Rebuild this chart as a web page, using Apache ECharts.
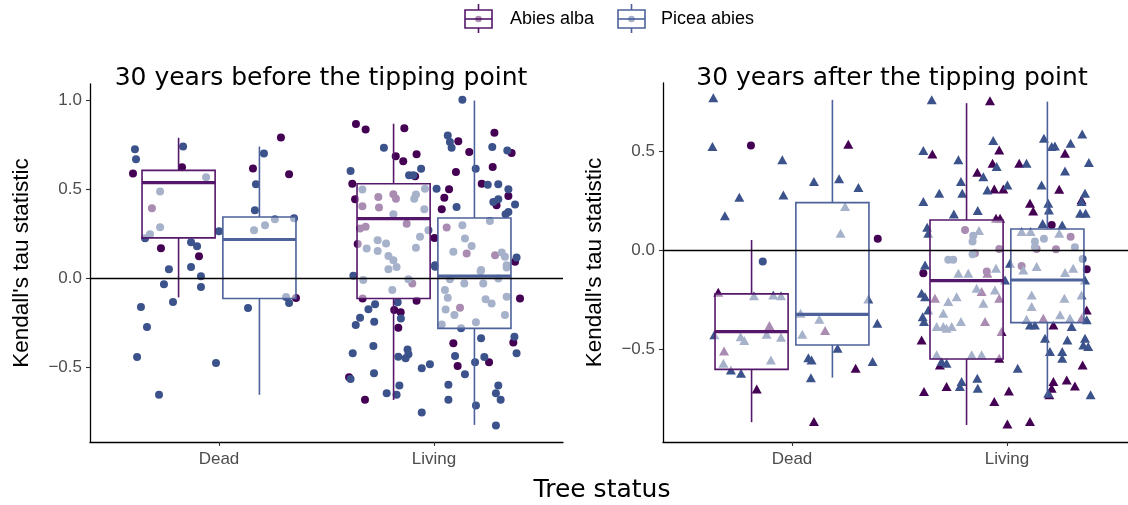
<!DOCTYPE html>
<html>
<head>
<meta charset="utf-8">
<script src="https://cdn.jsdelivr.net/npm/echarts@6/dist/echarts.min.js"></script>
<style>html,body{margin:0;padding:0;background:#fff}#c{width:1128px;height:505px}</style>
</head>
<body>
<div id="c"></div>
<script>
// ---------- DATA ----------
const categories = ['Dead', 'Living'];
const species = ['Abies alba', 'Picea abies'];
const yTicksBefore = [-0.5, 0, 0.5, 1.0];
const yTicksAfter = [-0.5, 0, 0.5];

// box stats: [lowWhisker, q1, median, q3, highWhisker]
const beforeAbiesDeadBox   = [-0.108, 0.226, 0.536, 0.605, 0.788];
const beforePiceaDeadBox   = [-0.655, -0.114, 0.217, 0.343, 0.739];
const beforeAbiesLivingBox = [-0.684, -0.114, 0.334, 0.530, 0.867];
const beforePiceaLivingBox = [-0.824, -0.282, 0.011, 0.338, 0.997];
const afterAbiesDeadBox    = [-0.870, -0.603, -0.413, -0.222, 0.050];
const afterPiceaDeadBox    = [-0.645, -0.480, -0.325, 0.239, 0.758];
const afterAbiesLivingBox  = [-0.884, -0.551, -0.155, 0.151, 0.741];
const afterPiceaLivingBox  = [-0.741, -0.367, -0.152, 0.106, 0.749];

// jittered points: [x position on category scale, tau]
const beforeAbies = [
 [0.600,0.588],[0.828,0.622],[0.688,0.392],[0.730,0.168],[0.907,0.123],[1.158,0.616],[1.288,0.790],[1.326,0.583],[1.358,-0.112],
 [1.637,0.866],[1.682,0.835],[1.862,0.842],[2.113,0.769],[2.281,0.816],[2.164,0.708],[1.919,0.695],[1.822,0.684],[1.857,0.656],[2.361,0.702],[2.102,0.596],[2.273,0.624],[1.912,0.572],[1.620,0.530],[2.222,0.530],[2.070,0.499],[1.633,0.443],[2.048,0.452],[2.036,0.387],[2.346,0.461],[2.291,0.409],[1.645,0.191],[2.377,0.092],[2.002,0.226],
 [1.741,0.456],[1.811,0.471],[1.823,0.446],[1.667,0.403],[1.744,0.396],[1.873,0.306],[1.656,0.278],[1.682,0.288],[2.152,0.138],[2.284,0.129],[2.059,0.284],
 [1.899,-0.030],[2.121,-0.166],[1.668,-0.114],[1.919,-0.127],[1.815,-0.179],[1.845,-0.192],[1.834,-0.278],[1.679,-0.683],[1.605,-0.556],[2.090,-0.366],[2.110,-0.493],[2.256,-0.472],[2.400,-0.114],[2.369,-0.362]
];
const beforePicea = [
 [0.609,0.723],[0.614,0.667],[0.833,0.739],[0.940,0.566],[0.726,0.487],[0.726,0.286],[0.679,0.246],[0.656,0.224],[1.000,0.263],[0.870,0.202],[0.898,0.179],[0.767,0.050],[0.870,0.062],[0.916,0.011],[0.744,-0.034],[0.916,-0.050],[0.786,-0.134],[0.637,-0.162],[0.665,-0.275],[0.619,-0.443],[0.721,-0.655],[0.986,-0.476],[1.209,0.700],[1.172,0.527],[1.167,0.381],[1.163,0.269],[1.214,0.297],[1.260,0.331],[1.349,0.336],[1.312,-0.106],[1.326,-0.140],[1.135,-0.168],
 [2.132,1.001],[1.767,0.732],[2.064,0.801],[2.074,0.764],[2.082,0.732],[2.271,0.736],[2.341,0.717],[1.612,0.601],[1.940,0.614],[1.884,0.577],[1.904,0.577],[2.194,0.614],[2.250,0.525],[2.299,0.527],[2.346,0.499],[2.012,0.502],[2.276,0.428],[2.299,0.443],[2.377,0.413],[2.105,0.400],[2.346,0.372],[2.333,0.359],[2.384,0.116],[2.005,0.064],
 [1.667,0.497],[1.916,0.469],[1.958,0.502],[1.908,0.446],[1.955,0.387],[1.811,0.359],[1.687,0.166],[1.738,0.213],[1.777,0.194],[1.738,0.153],[1.788,0.125],[1.811,0.101],[1.935,0.232],[1.974,0.269],[1.916,0.170],[2.090,0.148],[2.132,0.297],[2.144,0.222],[2.175,0.180],[2.260,0.321],[2.315,0.144],[2.330,0.120],[2.338,0.073],[2.219,0.045],
 [1.671,-0.011],[1.788,0.050],[1.826,0.063],[1.881,-0.006],[1.806,-0.067],[2.051,-0.067],[2.064,-0.110],[2.141,-0.030],[2.074,-0.006],[2.217,0.039],[2.229,-0.030],[2.299,-0.002],[2.338,0.060],[2.338,-0.105],[2.240,-0.118],[2.268,-0.142],[2.054,-0.176],[2.095,-0.207],[2.195,-0.248],[2.330,-0.207],[2.126,-0.282],[2.036,-0.260],
 [1.625,0.013],[1.726,-0.147],[1.695,-0.174],[1.656,-0.222],[1.636,-0.263],[1.722,-0.245],[1.831,-0.136],[1.846,-0.226],[1.718,-0.381],[1.622,-0.422],[1.834,-0.441],[1.877,-0.400],[1.881,-0.428],[1.868,-0.450],[1.943,-0.506],[1.981,-0.484],[1.721,-0.534],[1.612,-0.566],[1.839,-0.603],[1.780,-0.646],[1.826,-0.655],[1.943,-0.754],[2.067,-0.599],[2.067,-0.683],[2.098,-0.437],[2.144,-0.540],[2.191,-0.472],[2.234,-0.443],[2.219,-0.338],[2.374,-0.329],[2.384,-0.422],[2.299,-0.603],[2.288,-0.646],[2.310,-0.683],[2.195,-0.715],[2.288,-0.827],[2.005,0.073]
];
const afterAbiesTri = [
 [0.657,-0.214],[0.836,-0.702],[1.262,0.534],[1.296,-0.598],[1.102,-0.867],[0.895,-0.382],[0.684,-0.510],[1.154,-0.407],
 [1.921,0.753],[1.653,0.485],[1.964,0.505],[1.933,0.438],[1.862,0.392],[1.941,0.308],[1.983,0.308],[2.057,0.438],[2.270,0.488],[2.243,0.306],[2.107,0.236],[2.122,0.197],[2.347,0.253],[1.949,0.160],[1.968,0.160],
 [1.665,-0.244],[1.882,-0.210],[1.898,-0.362],[1.964,-0.244],[1.975,-0.412],[2.169,-0.345],[2.347,-0.345],[1.909,-0.118],
 [1.603,-0.455],[1.614,-0.715],[1.719,-0.690],[1.941,-0.766],[2.009,-0.712],[2.002,-0.879],[2.107,-0.867],[2.352,-0.581],[2.216,-0.665],[2.208,-0.699],[2.278,-0.657],[2.316,-0.687],[2.197,-0.732],[1.688,-0.581],[1.964,-0.547],[2.371,-0.303],[2.216,-0.379]
];
const afterAbiesCirc = [
 [0.809,0.527],[1.399,0.056],[2.208,0.126],[1.611,-0.118],[2.371,-0.098],
 [1.805,0.101],[1.964,0.005],[2.138,0.005],[2.228,0.003],[2.296,0.066],[1.851,-0.017],[1.906,-0.109],[2.068,-0.081]
];
const afterPiceaTri = [
 [0.634,0.769],[0.630,0.522],[0.955,0.455],[0.755,0.266],[0.960,0.278],[0.688,0.172],[1.102,0.345],[1.219,0.359],[1.309,0.315],[1.355,-0.248],[1.397,-0.370],[1.375,-0.564],[1.212,-0.497],[1.076,-0.544],[1.091,-0.556],[1.088,-0.645],[0.639,-0.429],[0.716,-0.606],[0.763,-0.623],[1.040,-0.320],
 [0.823,-0.231],[0.913,-0.227],[0.949,-0.231],[0.761,-0.438],[0.778,-0.458],[0.882,-0.426],[0.949,-0.441],[0.681,-0.572],[0.902,-0.556],[1.247,0.219],[1.226,0.084],[1.127,-0.350],[1.048,-0.426],
 [1.650,0.758],[1.611,0.502],[1.774,0.455],[1.936,0.552],[1.952,0.421],[1.890,0.370],[2.002,0.328],[1.909,0.303],[1.786,0.345],[1.792,0.286],[1.685,0.286],[1.611,0.244],[1.864,0.199],[1.753,0.182],[1.629,0.114],[1.634,0.084],[2.091,0.438],[2.172,0.564],[2.208,0.522],[2.223,0.525],[2.296,0.539],[2.350,0.586],[2.381,0.441],[2.270,0.399],[2.161,0.328],[2.192,0.236],[2.195,0.202],[2.363,0.286],[2.340,0.185],[2.366,0.185],[2.257,0.126],[2.347,0.244],[2.166,0.133],
 [1.870,0.098],[2.068,0.093],[2.110,0.093],[2.243,0.084],
 [1.774,-0.118],[1.820,-0.118],[1.949,-0.093],[1.766,-0.236],[1.727,-0.261],[1.890,-0.269],[1.944,-0.202],[1.704,-0.320],[1.786,-0.362],[1.743,-0.387],[1.704,-0.387],[1.673,-0.387],[1.719,-0.396],[1.859,-0.194],[1.836,-0.530],[1.882,-0.530],[1.673,-0.530],
 [2.115,-0.227],[2.115,-0.286],[2.267,-0.244],[2.138,-0.084],[2.076,-0.101],[2.270,-0.114],[2.308,-0.093],[2.347,-0.227],[2.247,-0.328],[2.091,-0.350],[2.293,-0.345],
 [1.619,-0.076],[1.603,-0.219],[1.619,-0.236],[1.634,-0.303],[1.608,-0.337],[1.614,-0.362],[1.719,-0.572],[1.696,-0.564],[1.789,-0.665],[1.781,-0.690],[1.862,-0.648],[1.864,-0.699],[2.050,-0.598],[2.014,-0.067],[2.107,-0.379],[2.130,-0.379],[2.177,-0.446],[2.200,-0.513],[2.257,-0.513],[2.281,-0.455],[2.301,-0.387],[2.363,-0.446],[2.378,-0.488],[2.355,-0.480],[2.371,-0.353],[2.257,-0.547],[2.389,-0.732],[2.192,-0.724],[2.363,-0.152],[1.991,-0.152]
];
const afterPiceaCirc = [
 [0.864,-0.059],[1.843,0.072],[1.840,0.042],[1.727,-0.050],[1.750,-0.050],[1.840,-0.022],[2.172,0.056],[2.316,0.013],[2.352,-0.046],[2.130,0.042],[2.130,0.013]
];

// ---------- STYLE ----------
const POINT_COLORS = ['#440154', '#3b528b'];
const LINE_COLORS = ['#55176a', '#4d629b'];
const DODGE = 0.188, HALF = 0.17;
const TICK_FONT = 'Liberation Sans, Arial, sans-serif';
const TITLE_FONT = 'DejaVu Sans, sans-serif';

function boxData(a0, p0, a1, p1) {
  return [[1, 0].concat(a0), [1, 1].concat(p0), [2, 0].concat(a1), [2, 1].concat(p1)];
}

function renderBox(params, api) {
  const cat = api.value(0), sp = api.value(1);
  const cx = cat + (sp === 0 ? -DODGE : DODGE);
  const lo = api.value(2), q1 = api.value(3), md = api.value(4), q3 = api.value(5), hi = api.value(6);
  const col = LINE_COLORS[sp];
  const tl = api.coord([cx - HALF, q3]);
  const br = api.coord([cx + HALF, q1]);
  const c = api.coord([cx, md]);
  const pHi = api.coord([cx, hi]);
  const pLo = api.coord([cx, lo]);
  return {
    type: 'group',
    children: [
      { type: 'line', shape: { x1: c[0], y1: pHi[1], x2: c[0], y2: tl[1] }, style: { stroke: col, lineWidth: 1.6 } },
      { type: 'line', shape: { x1: c[0], y1: br[1], x2: c[0], y2: pLo[1] }, style: { stroke: col, lineWidth: 1.6 } },
      { type: 'rect', shape: { x: tl[0], y: tl[1], width: br[0] - tl[0], height: br[1] - tl[1] },
        style: { fill: 'rgba(255,255,255,0.55)', stroke: col, lineWidth: 1.6 } },
      { type: 'line', shape: { x1: tl[0], y1: c[1], x2: br[0], y2: c[1] }, style: { stroke: col, lineWidth: 3.2 } }
    ]
  };
}

function yAxis(idx, min, max, ticks) {
  return {
    gridIndex: idx, type: 'value', min: min, max: max,
    name: "Kendall's tau statistic", nameLocation: 'middle', nameGap: 57,
    nameTextStyle: { color: '#000', fontSize: 22.5, fontFamily: TICK_FONT },
    axisLine: { show: true, lineStyle: { color: '#000', width: 1.3 } },
    axisTick: { show: true, length: 4, customValues: ticks, lineStyle: { color: '#333', width: 1.1 } },
    axisLabel: { customValues: ticks, color: '#4d4d4d', fontSize: 17, fontFamily: TICK_FONT, margin: 8,
      formatter: v => (v < 0 ? '\u2212' : '') + Math.abs(v).toFixed(1) },
    splitLine: { show: false }
  };
}
function xAxis(idx, max) {
  return {
    gridIndex: idx, type: 'value', min: 0.4, max: max,
    axisLine: { show: true, onZero: false, lineStyle: { color: '#000', width: 1.3 } },
    axisTick: { show: true, length: 4, customValues: [1, 2], lineStyle: { color: '#333', width: 1.1 } },
    axisLabel: { customValues: [1, 2], color: '#4d4d4d', fontSize: 17, fontFamily: TICK_FONT, margin: 9,
      formatter: v => categories[Math.round(v) - 1] },
    splitLine: { show: false }
  };
}
function scatter(idx, data, sp, symbol) {
  return {
    type: 'scatter', xAxisIndex: idx, yAxisIndex: idx, data: data,
    symbol: symbol, symbolSize: symbol === 'triangle' ? [10, 9] : 8,
    itemStyle: { color: POINT_COLORS[sp], opacity: 1 }, z: 2, silent: true
  };
}
function zeroLine(idx) {
  return {
    type: 'line', xAxisIndex: idx, yAxisIndex: idx, data: [], z: 1, silent: true,
    markLine: { silent: true, symbol: 'none', label: { show: false }, animation: false,
      lineStyle: { color: '#000', width: 1.4, type: 'solid' }, data: [{ yAxis: 0 }] }
  };
}
function boxSeries(idx, data) {
  return { type: 'custom', xAxisIndex: idx, yAxisIndex: idx, data: data, renderItem: renderBox,
    encode: { x: 0, y: [2, 6] }, z: 3, silent: true };
}
function legendItem(x, textX, sp) {
  const col = LINE_COLORS[sp];
  return {
    type: 'group', children: [
      { type: 'line', shape: { x1: x + 13.5, y1: 4, x2: x + 13.5, y2: 33 }, style: { stroke: col, lineWidth: 1.6 } },
      { type: 'rect', shape: { x: x, y: 10, width: 27, height: 18 }, style: { fill: '#fff', stroke: col, lineWidth: 1.6 } },
      { type: 'line', shape: { x1: x, y1: 19, x2: x + 27, y2: 19 }, style: { stroke: col, lineWidth: 1.6 } },
      { type: 'circle', shape: { cx: x + 13.5, cy: 19, r: 3.3 }, style: { fill: POINT_COLORS[sp], opacity: 0.45 } },
      { type: 'text', x: textX, y: 19, style: { text: species[sp], fill: '#000', fontSize: 18, fontFamily: TICK_FONT, textVerticalAlign: 'middle' } }
    ]
  };
}

const chart = echarts.init(document.getElementById('c'), null, { renderer: 'canvas' });
chart.setOption({
  animation: false,
  backgroundColor: '#fff',
  grid: [
    { left: 90, top: 84, width: 473, height: 358 },
    { left: 663, top: 83, width: 465, height: 359 }
  ],
  xAxis: [xAxis(0, 2.6), xAxis(1, 2.563)],
  yAxis: [yAxis(0, -0.92, 1.09, yTicksBefore), yAxis(1, -0.97, 0.843, yTicksAfter)],
  graphic: [
    { type: 'text', x: 321, y: 78, style: { text: '30 years before the tipping point', fill: '#000', fontSize: 25, fontFamily: TITLE_FONT, textAlign: 'center', textVerticalAlign: 'middle' } },
    { type: 'text', x: 892, y: 78, style: { text: '30 years after the tipping point', fill: '#000', fontSize: 25, fontFamily: TITLE_FONT, textAlign: 'center', textVerticalAlign: 'middle' } },
    { type: 'text', x: 602, y: 490, style: { text: 'Tree status', fill: '#000', fontSize: 25, fontFamily: TITLE_FONT, textAlign: 'center', textVerticalAlign: 'middle' } },
    legendItem(465, 510, 0),
    legendItem(618, 661, 1)
  ],
  series: [
    zeroLine(0), zeroLine(1),
    scatter(0, beforeAbies, 0, 'circle'),
    scatter(0, beforePicea, 1, 'circle'),
    scatter(1, afterAbiesTri, 0, 'triangle'),
    scatter(1, afterAbiesCirc, 0, 'circle'),
    scatter(1, afterPiceaTri, 1, 'triangle'),
    scatter(1, afterPiceaCirc, 1, 'circle'),
    boxSeries(0, boxData(beforeAbiesDeadBox, beforePiceaDeadBox, beforeAbiesLivingBox, beforePiceaLivingBox)),
    boxSeries(1, boxData(afterAbiesDeadBox, afterPiceaDeadBox, afterAbiesLivingBox, afterPiceaLivingBox))
  ]
});
</script>
</body>
</html>
